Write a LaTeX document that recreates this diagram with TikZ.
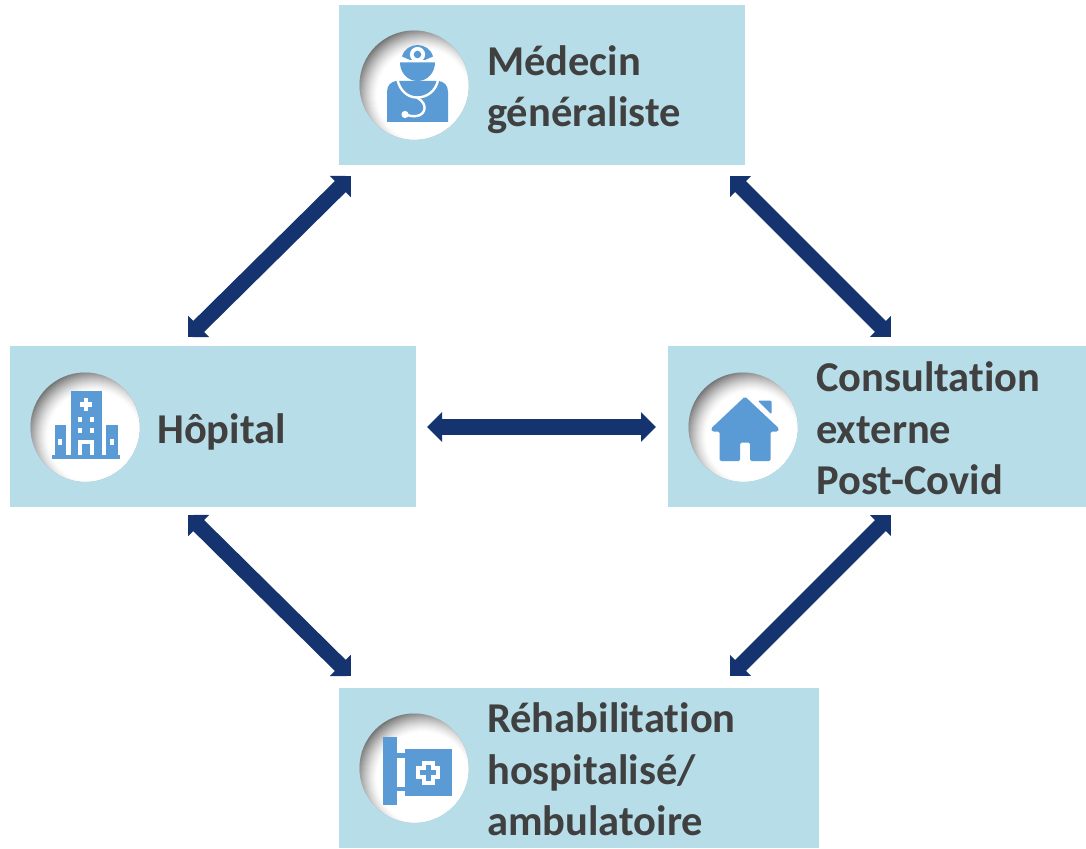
\documentclass[tikz,border=0pt]{standalone}
\usepackage{fontspec}
\setmainfont[Ligatures=NoCommon]{Carlito}
\usetikzlibrary{arrows.meta,calc}
\definecolor{box_blue}{RGB}{183,221,232}
\definecolor{icon_blue}{RGB}{91,155,213}
\definecolor{edge_navy}{RGB}{21,51,110}
\definecolor{text_gray}{RGB}{64,64,64}
\definecolor{dent_gray}{RGB}{105,105,105}

\begin{document}
\begin{tikzpicture}[x=1pt,y=-1pt,>={Triangle[length=15pt,width=29pt]}]
    \tikzset{panel/.style={fill=box_blue, anchor=north west, inner sep=0pt}}
    \tikzset{dent/.style={circle, minimum size=109pt, inner sep=0pt, fill=dent_gray}}
    \tikzset{label/.style={text=text_gray, anchor=west, align=left, inner sep=0pt, font=\fontsize{42.5}{51.5}\selectfont\bfseries}}
    \tikzset{link/.style={<->,edge_navy,line width=15.5pt}}
    \tikzset{icon/.style={fill=icon_blue,draw=none}}
    \tikzset{cutout/.style={fill=white,draw=none}}

    \useasboundingbox (0,0) rectangle (1086,848);

    \node[panel, minimum width=406pt, minimum height=160pt] (medecin) at (339,5) {};
    \node[panel, minimum width=406pt, minimum height=161pt] (hopital) at (10,346) {};
    \node[panel, minimum width=418pt, minimum height=161pt] (consult) at (668,346) {};
    \node[panel, minimum width=480pt, minimum height=160pt] (rehab) at (339,688) {};

    \node[dent] (medecinicon) at (414,85) {};
    \node[dent] (hopitalicon) at (85,427) {};
    \node[dent] (consulticon) at (743,427) {};
    \node[dent] (rehabicon) at (414,768) {};

    % inner shadow of the round icon backgrounds
    \foreach \iconname in {medecinicon,hopitalicon,consulticon,rehabicon} {
      \begin{scope}
        \clip (\iconname) circle (54.5);
        \foreach \r in {68,67,...,46} {
          \pgfmathsetmacro\fade{1-((\r-46)/(\r-45))^1.5}
          \fill[white,opacity=\fade] ($(\iconname)+(9,10)$) circle (\r);
        }
      \end{scope}
    }

    \node[label] (medecintext) at (487,89.5) {Médecin\\généraliste};
    \node[label] (hopitaltext) at (157,432) {Hôpital};
    \node[label] (consulttext) at (816,428.5) {Consultation\\externe\\Post-Covid};
    \node[label] (rehabtext) at (487,769.5) {Réhabilitation\\hospitalisé/\\ambulatoire};

    % ends of the arrows
    \coordinate (medecinA) at (351,176);
    \coordinate (hopitalA) at (188,337);
    \coordinate (medecinB) at (730,176);
    \coordinate (consultA) at (891,337);
    \coordinate (hopitalB) at (427,427);
    \coordinate (consultB) at (656,427);
    \coordinate (hopitalC) at (188,515);
    \coordinate (rehabA) at (351,676);
    \coordinate (consultC) at (891,515);
    \coordinate (rehabB) at (730,676);

    \draw[link] (medecinA) -- (hopitalA);
    \draw[link] (medecinB) -- (consultA);
    \draw[link] (hopitalB) -- (consultB);
    \draw[link] (hopitalC) -- (rehabA);
    \draw[link] (consultC) -- (rehabB);

    % doctor
    \fill[icon] (387,122) -- (387,92) .. controls (387,85) and (391,82) .. (396,81) -- (439,81) .. controls (444,82) and (448,85) .. (448,92) -- (448,122) -- cycle;
    \fill[icon] (400,62.5) -- (435,62.5) .. controls (435,72) and (428,81) .. (417.5,81) .. controls (407,81) and (400,72) .. (400,62.5) -- cycle;
    \fill[icon] (402,56.5) .. controls (404,49) and (411,45) .. (417.5,45) .. controls (424,45) and (431,49) .. (433,56.5) -- (425,60) -- (410,60) -- cycle;
    \fill[cutout] (417.5,54.5) circle (7.6);
    \fill[icon] (417.5,54.5) circle (3.8);
    \draw[white,line width=2.4pt] (397.5,80) .. controls (400,91) and (408,97.5) .. (417,97.5) .. controls (427,97.5) and (436,91) .. (438,80);
    \draw[white,line width=2.4pt] (417,97.5) .. controls (423,101) and (425,105) .. (424.5,109) .. controls (423,117) and (413,117.5) .. (406,114.5);
    \fill[cutout] (405,114.5) circle (3.6);

    % hospital
    \fill[icon] (70.5,391) rectangle (101.5,455);
    \fill[icon] (54.5,424.5) rectangle (66,455);
    \fill[icon] (106,424.5) rectangle (117.5,455);
    \fill[icon] (52,455) rectangle (120,459);
    \fill[cutout] (84,398.3) rectangle (88.4,410.7);
    \fill[cutout] (80,402.3) rectangle (92.4,406.7);
    \foreach \x in {80.3,91.7} \foreach \y in {419.3,430.7}
      \fill[cutout] (\x-2,\y-2.7) rectangle (\x+2,\y+2.7);
    \foreach \x in {60.3,111.7}
      \fill[cutout] (\x-2,439) rectangle (\x+2,444.5);
    \fill[cutout] (78.3,440) rectangle (94,455);
    \fill[icon] (82.3,444) rectangle (90,455);

    % house
    \fill[icon,rounded corners=1.5pt] (757.5,400.5) -- (771.5,400.5) -- (771.5,414.5) -- cycle;
    \fill[icon,rounded corners=1.5pt] (745,396.5) -- (779,428.5) -- (778,431.5) -- (770.5,431.5) -- (770.5,461) -- (750,461) -- (750,442.5) -- (740,442.5) -- (740,461) -- (719.5,461) -- (719.5,431.5) -- (712,431.5) -- (711,428.5) -- cycle;

    % sign
    \fill[icon] (383,737) rectangle (396.5,804.5);
    \fill[icon] (396,753) rectangle (405,757.5);
    \fill[icon] (396,787) rectangle (405,791);
    \fill[icon] (404.5,748.5) rectangle (452,795.5);
    \fill[cutout] (422,760.5) rectangle (434.5,784.5);
    \fill[cutout] (416.3,766) rectangle (440.3,779);
    \fill[icon] (425.5,764.5) rectangle (431,780.5);
    \fill[icon] (420.3,769.7) rectangle (436.3,775.3);
\end{tikzpicture}
\end{document}
